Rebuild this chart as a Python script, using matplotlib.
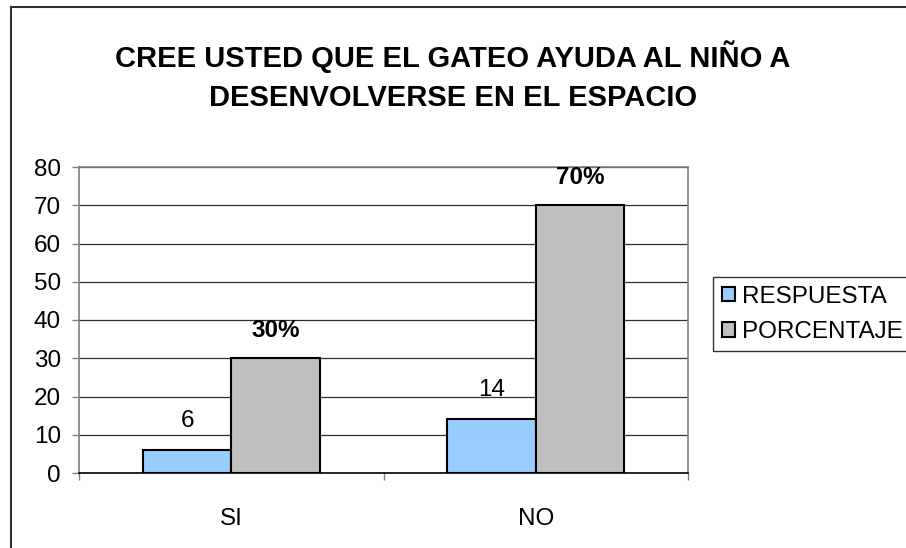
import matplotlib.pyplot as plt
import numpy as np
from matplotlib.lines import Line2D

plt.rcParams['font.family'] = ['Liberation Sans', 'DejaVu Sans']

# data
categories = ['SI', 'NO']
respuesta = [6, 14]
porcentaje = [30, 70]
porcentaje_labels = ['30%', '70%']
series_names = ['RESPUESTA', 'PORCENTAJE']
yticks = [0, 10, 20, 30, 40, 50, 60, 70, 80]

W, H = 906, 548
fs = 17.5
fig = plt.figure(figsize=(W / 100, H / 100), dpi=100)
ax = fig.add_axes([79 / W, 1 - 473 / H, (688 - 79) / W, (473 - 167) / H])

x = np.arange(len(categories))
bw = 0.29
b1 = ax.bar(x - bw / 2, respuesta, bw, color='#99CCFF', edgecolor='black',
            linewidth=1.5, label=series_names[0], zorder=3)
b2 = ax.bar(x + bw / 2, porcentaje, bw, color='#C0C0C0', edgecolor='black',
            linewidth=1.5, label=series_names[1], zorder=3)

for rect, v in zip(b1, respuesta):
    ax.annotate(str(v), (rect.get_x() + rect.get_width() / 2, rect.get_height()),
                xytext=(0, 13), textcoords='offset points', ha='center',
                va='bottom', fontsize=fs)
for rect, lab in zip(b2, porcentaje_labels):
    ax.annotate(lab, (rect.get_x() + rect.get_width() / 2, rect.get_height()),
                xytext=(0, 12), textcoords='offset points', ha='center',
                va='bottom', fontsize=fs, fontweight='bold')

ax.set_xlim(-0.5, len(categories) - 0.5)
ax.set_ylim(0, 80)
ax.set_yticks(yticks)
ax.tick_params(axis='y', direction='out', length=5, width=1, color='#808080',
               pad=8, labelsize=fs)

# category boundaries as major ticks, names as minor ticks
ax.set_xticks(np.arange(len(categories) + 1) - 0.5)
ax.set_xticklabels([])
ax.set_xticks(x, minor=True)
ax.set_xticklabels(categories, minor=True)
ax.tick_params(axis='x', which='major', direction='out', length=5, width=1,
               color='#808080')
ax.tick_params(axis='x', which='minor', length=0, pad=25, labelsize=fs)

ax.yaxis.grid(True, color='#303030', linewidth=0.9)
ax.set_axisbelow(True)
for s in ['left', 'top', 'right']:
    ax.spines[s].set_color('#808080')
    ax.spines[s].set_linewidth(1.2)
ax.spines['bottom'].set_color('black')
ax.spines['bottom'].set_linewidth(1.2)

fig.text(0.5, 1 - 76 / H, 'CREE USTED QUE EL GATEO AYUDA AL NIÑO A\nDESENVOLVERSE EN EL ESPACIO',
         ha='center', va='center', fontsize=21, fontweight='bold', linespacing=1.5)

leg = fig.legend(handles=[b1, b2], loc='upper left',
                 bbox_to_anchor=(713 / W, 1 - 277 / H), borderaxespad=0,
                 fontsize=fs, frameon=True, fancybox=False, shadow=False,
                 handlelength=0.56, handleheight=0.56, handletextpad=0.3,
                 labelspacing=0.55, borderpad=0.35)
leg.get_frame().set_edgecolor('black')
leg.get_frame().set_linewidth(1.0)

# outer chart border (cropped on right and bottom)
fig.add_artist(Line2D([11 / W, 11 / W], [0, 1 - 7 / H], color='#303030', lw=1.5,
                      transform=fig.transFigure))
fig.add_artist(Line2D([11 / W, 1], [1 - 7 / H, 1 - 7 / H], color='#303030', lw=1.5,
                      transform=fig.transFigure))

fig.savefig('out.png', dpi=100)
